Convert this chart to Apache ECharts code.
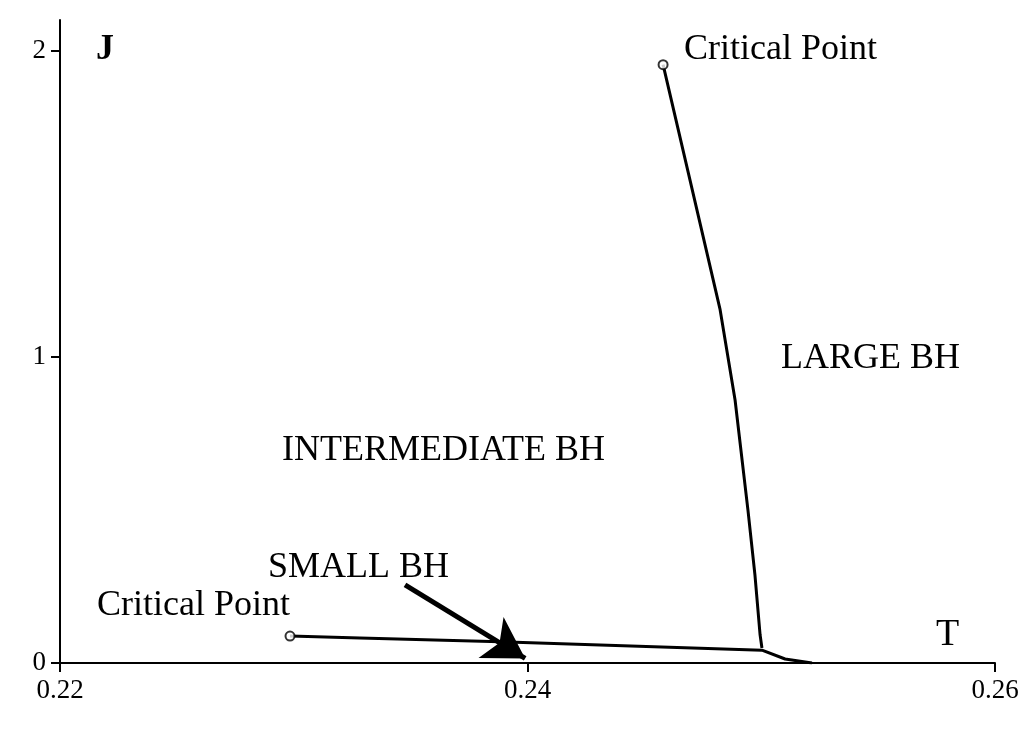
<!DOCTYPE html>
<html>
<head>
<meta charset="utf-8">
<script src="https://cdn.jsdelivr.net/npm/echarts@6/dist/echarts.min.js"></script>
<style>html,body{margin:0;background:#fff}#chart{width:1024px;height:739px}</style>
</head>
<body>
<div id="chart"></div>
<script>
var upperT = [0.24580, 0.24695, 0.24824, 0.24888, 0.24943, 0.24973, 0.24995, 0.25003];
var upperJ = [1.954, 1.578, 1.154, 0.859, 0.500, 0.288, 0.092, 0.049];
var lowerT = [0.22984, 0.23283, 0.23882, 0.25003, 0.25102, 0.25217];
var lowerJ = [0.088, 0.082, 0.069, 0.042, 0.013, 0.0];
var arrowFrom = [0.23476, 0.255];
var arrowTo = [0.23990, 0.015];
var xTicks = [0.22, 0.24, 0.26];

var serif = 'Liberation Serif';
var chart = echarts.init(document.getElementById('chart'));

function pairs(xs, ys) { return xs.map(function (x, i) { return [x, ys[i]]; }); }

var option = {
    animation: false,
    grid: { left: 60, right: 29, top: 20, bottom: 76 },
    xAxis: {
        type: 'value', min: 0.22, max: 0.26, interval: 0.02,
        axisLine: { lineStyle: { color: '#000', width: 2 } },
        axisTick: { length: 9, lineStyle: { color: '#000', width: 2 } },
        axisLabel: { color: '#000', fontFamily: serif, fontSize: 27, margin: 14,
            formatter: function (v) { return xTicks.indexOf(+v.toFixed(2)) >= 0 ? v.toFixed(2) : ''; } },
        splitLine: { show: false }
    },
    yAxis: {
        type: 'value', min: 0, max: 2.1, interval: 1,
        axisLine: { show: true, lineStyle: { color: '#000', width: 2 } },
        axisTick: { show: true, length: 9, lineStyle: { color: '#000', width: 2 } },
        axisLabel: { color: '#000', fontFamily: serif, fontSize: 27, margin: 14, showMaxLabel: false },
        splitLine: { show: false }
    },
    series: [
        {
            type: 'line', data: pairs(upperT, upperJ),
            symbol: 'none', lineStyle: { color: '#000', width: 3 }
        },
        {
            type: 'line', data: pairs(lowerT, lowerJ),
            symbol: 'none', lineStyle: { color: '#000', width: 3 },
            markLine: {
                silent: true, symbol: ['none', 'arrow'], symbolSize: [36, 40],
                label: { show: false },
                lineStyle: { color: '#000', width: 5, type: 'solid' },
                data: [[{ coord: arrowFrom }, { coord: arrowTo }]]
            }
        },
        {
            type: 'scatter', symbol: 'circle', symbolSize: 9,
            itemStyle: { color: '#fff', borderColor: '#000', borderWidth: 2 },
            data: [[upperT[0], upperJ[0]], [lowerT[0], lowerJ[0]]], z: 5
        }
    ],
    graphic: [
        { type: 'text', left: 96, top: 32, style: { text: 'J', font: 'bold 36px ' + serif, fill: '#000' } },
        { type: 'text', left: 936, top: 616, style: { text: 'T', font: '38px ' + serif, fill: '#000' } },
        { type: 'text', left: 684, top: 32, style: { text: 'Critical Point', font: '36px ' + serif, fill: '#000' } },
        { type: 'text', left: 97, top: 588, style: { text: 'Critical Point', font: '36px ' + serif, fill: '#000' } },
        { type: 'text', left: 781, top: 341, style: { text: 'LARGE BH', font: '36px ' + serif, fill: '#000' } },
        { type: 'text', left: 282, top: 433, style: { text: 'INTERMEDIATE BH', font: '36px ' + serif, fill: '#000' } },
        { type: 'text', left: 268, top: 550, style: { text: 'SMALL BH', font: '36px ' + serif, fill: '#000' } }
    ]
};
chart.setOption(option);
</script>
</body>
</html>
